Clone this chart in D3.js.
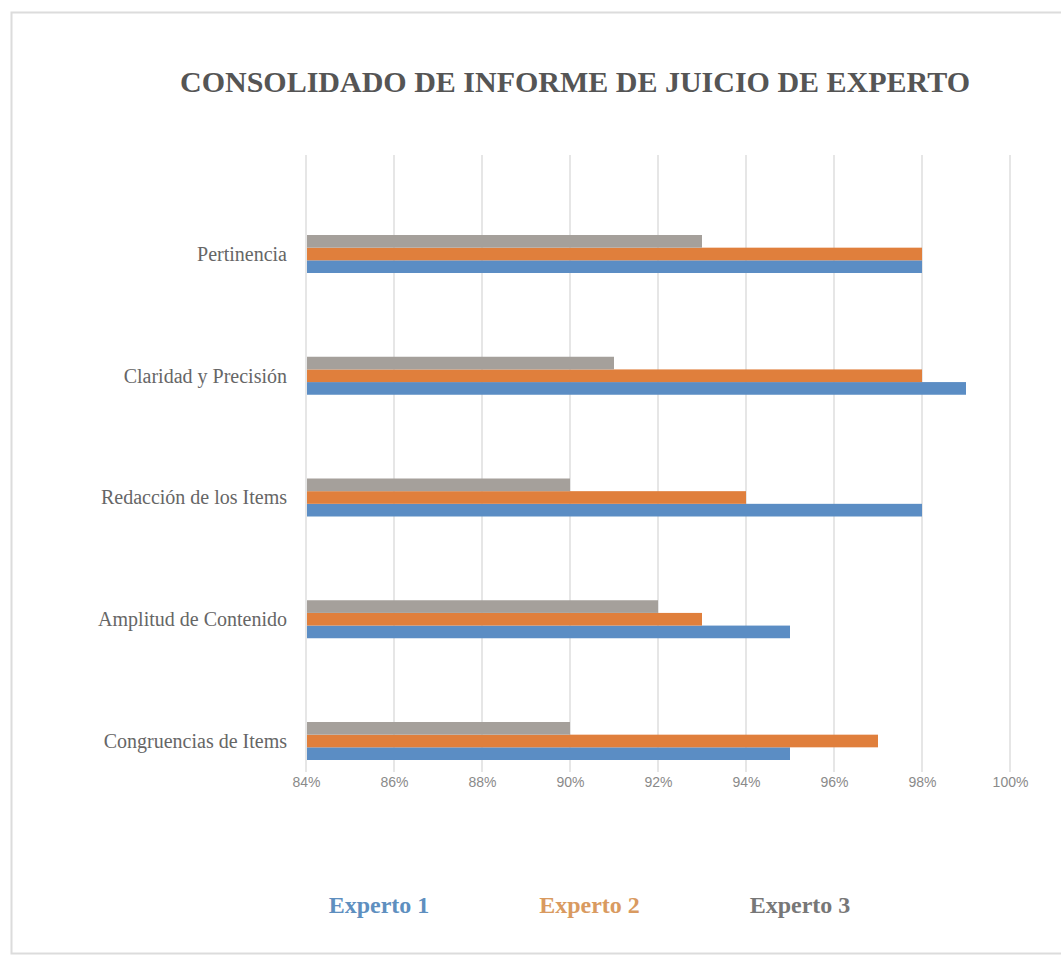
<!doctype html>
<html lang="es">
<head>
	<meta charset="utf-8">
	<title>Consolidado de informe de juicio de experto</title>
	<script src="https://d3js.org/d3.v7.min.js"></script>
	<style>
		body { margin: 0; background: #fff; }
		svg { display: block; }
	</style>
</head>
<body>
	<script>
		// data
		var categories = ["Pertinencia", "Claridad y Precisión", "Redacción de los Items", "Amplitud de Contenido", "Congruencias de Items"];
		var experto1 = [98, 99, 98, 95, 95];
		var experto2 = [98, 98, 94, 93, 97];
		var experto3 = [93, 91, 90, 92, 90];
		var seriesNames = ["Experto 1", "Experto 2", "Experto 3"];
		var tickValues = [84, 86, 88, 90, 92, 94, 96, 98, 100];

		var width = 1061, height = 956;
		var colors = { "Experto 1": "#5b8dc4", "Experto 2": "#e07f3c", "Experto 3": "#a5a09b" };
		var legendColors = { "Experto 1": "#5e8fbf", "Experto 2": "#d99a60", "Experto 3": "#777777" };

		var svg = d3.select("body").append("svg")
			.attr("width", width)
			.attr("height", height);

		// frame
		svg.append("rect")
			.attr("x", 11.5).attr("y", 12.5)
			.attr("width", 1070).attr("height", 941)
			.attr("fill", "#fff")
			.attr("stroke", "#dcdcdc")
			.attr("stroke-width", 2);

		// title
		svg.append("text")
			.attr("x", 575).attr("y", 92)
			.attr("text-anchor", "middle")
			.attr("textLength", 790)
			.attr("lengthAdjust", "spacingAndGlyphs")
			.style("font-family", "'Liberation Serif', 'DejaVu Serif', serif")
			.style("font-weight", "bold")
			.style("font-size", "30px")
			.style("fill", "#555")
			.text("CONSOLIDADO DE INFORME DE JUICIO DE EXPERTO");

		var plotTop = 155, plotBottom = 772;

		var x = d3.scaleLinear().domain([84, 100]).range([306, 1010]);
		var y = d3.scalePoint().domain(categories).range([254, 741]);
		// bars inside each category, top to bottom: Experto 3, Experto 2, Experto 1
		var ySub = d3.scaleBand().domain(["Experto 3", "Experto 2", "Experto 1"]).range([-19, 19]);

		// gridlines
		svg.append("g")
			.selectAll("line")
			.data(tickValues)
			.join("line")
			.attr("x1", function(d) { return x(d); })
			.attr("x2", function(d) { return x(d); })
			.attr("y1", plotTop).attr("y2", plotBottom)
			.attr("stroke", "#dedede")
			.attr("stroke-width", 1.5);

		// x axis tick labels
		var xAxis = d3.axisBottom(x)
			.tickValues(tickValues)
			.tickSize(0)
			.tickPadding(0)
			.tickFormat(function(d) { return d + "%"; });

		var gx = svg.append("g")
			.attr("transform", "translate(0," + 777 + ")")
			.call(xAxis);
		gx.select(".domain").remove();
		gx.selectAll("text")
			.style("font-family", "'Liberation Sans', Arial, sans-serif")
			.style("font-size", "14px")
			.style("fill", "#8a8a8a");

		// bars
		var rows = categories.map(function(c, i) {
			return { cat: c, values: [
				{ name: "Experto 1", v: experto1[i] },
				{ name: "Experto 2", v: experto2[i] },
				{ name: "Experto 3", v: experto3[i] }
			] };
		});

		var groups = svg.append("g")
			.selectAll("g")
			.data(rows)
			.join("g")
			.attr("transform", function(d) { return "translate(0," + y(d.cat) + ")"; });

		groups.selectAll("rect")
			.data(function(d) { return d.values; })
			.join("rect")
			.attr("x", x(84) + 1)
			.attr("y", function(d) { return ySub(d.name); })
			.attr("width", function(d) { return x(d.v) - x(84) - 1; })
			.attr("height", ySub.bandwidth())
			.attr("fill", function(d) { return colors[d.name]; });

		// category labels
		var yAxis = d3.axisLeft(y).tickSize(0).tickPadding(0);
		var gy = svg.append("g")
			.attr("transform", "translate(287,0)")
			.call(yAxis);
		gy.select(".domain").remove();
		gy.selectAll("text")
			.style("font-family", "'Liberation Serif', 'DejaVu Serif', serif")
			.style("font-size", "20px")
			.style("fill", "#666");

		// legend (text only)
		var legendX = d3.scalePoint().domain(seriesNames).range([379, 800]);
		svg.append("g")
			.selectAll("text")
			.data(seriesNames)
			.join("text")
			.attr("x", function(d) { return legendX(d); })
			.attr("y", 913)
			.attr("text-anchor", "middle")
			.style("font-family", "'Liberation Serif', 'DejaVu Serif', serif")
			.style("font-weight", "bold")
			.style("font-size", "24px")
			.style("fill", function(d) { return legendColors[d]; })
			.text(function(d) { return d; });
	</script>
</body>
</html>
